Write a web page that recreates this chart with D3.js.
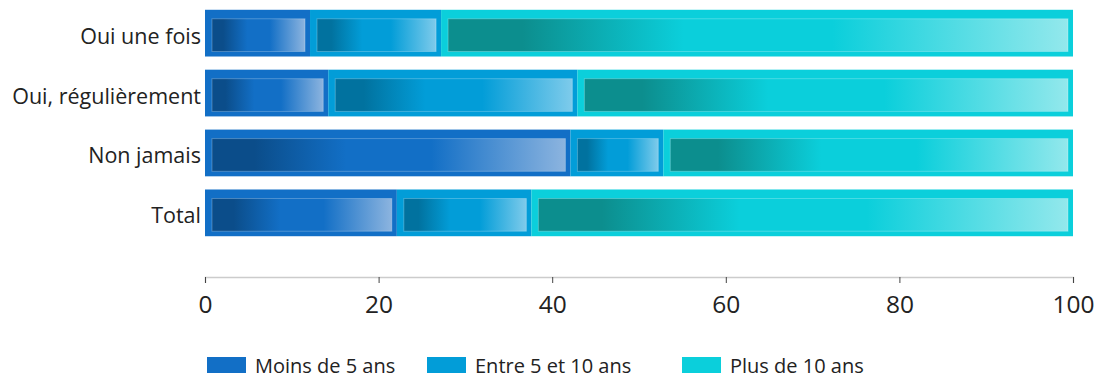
<!DOCTYPE html>
<html><head><meta charset="utf-8">
<script src="https://cdn.jsdelivr.net/npm/d3@7"></script>
<style>body{margin:0;background:#fff}svg{display:block}text{font-family:"Open Sans",sans-serif;fill:#222}</style>
</head><body>
<svg id="c" width="1101" height="380"></svg>
<script>
const categories = ["Oui une fois","Oui, régulièrement","Non jamais","Total"];
const seriesNames = ["Moins de 5 ans","Entre 5 et 10 ans","Plus de 10 ans"];
const moins = [12.1, 14.2, 42.1, 22.1];
const entre = [15.1, 28.7, 10.7, 15.5];
const plus  = [72.8, 57.1, 47.2, 62.4];
const xTicks = [0,20,40,60,80,100];

const colors = ["#126fc6","#029dd8","#0bcfdb"];
const darks  = ["#0b4d8a","#01729f","#0c8e8e"];
const lights = ["#8cb4df","#7ecbeb","#93e8ec"];

const svg = d3.select("#c");
const x = d3.scaleLinear().domain([0,100]).range([205,1073]);
const y = d3.scaleBand().domain(categories).range([-1,247]).paddingInner(0.22).paddingOuter(0.18);

const defs = svg.append("defs");
colors.forEach((c,i)=>{
  const g = defs.append("linearGradient").attr("id","g"+i).attr("x1","0").attr("x2","1").attr("y1","0").attr("y2","0");
  g.append("stop").attr("offset","0").attr("stop-color",darks[i]);
  g.append("stop").attr("offset","0.12").attr("stop-color",darks[i]);
  g.append("stop").attr("offset","0.38").attr("stop-color",c);
  g.append("stop").attr("offset","0.62").attr("stop-color",c);
  g.append("stop").attr("offset","1").attr("stop-color",lights[i]);
});

const seriesVals = [moins, entre, plus];
const data = categories.map((cat,j)=>{
  const o = {cat}; seriesNames.forEach((s,i)=>o[s]=seriesVals[i][j]); return o;
});
const stack = d3.stack().keys(seriesNames)(data);

stack.forEach((layer,i)=>{
  const g = svg.append("g");
  layer.forEach((d,j)=>{
    const x0 = x(d[0]), x1 = x(d[1]), yy = y(categories[j]), h = y.bandwidth();
    g.append("rect").attr("x",x0).attr("y",yy).attr("width",x1-x0).attr("height",h).attr("fill",colors[i]);
    g.append("rect").attr("x",x0+7).attr("y",yy+9).attr("width",Math.max(0,x1-x0-12)).attr("height",h-14)
      .attr("fill","url(#g"+i+")").attr("stroke","rgba(255,255,255,0.25)").attr("stroke-width",1);
  });
});

// category labels
svg.append("g").selectAll("text").data(categories).join("text")
  .attr("x",201).attr("y",d=>y(d)+y.bandwidth()/2+3).attr("dy","0.35em")
  .attr("text-anchor","end").attr("font-size",21.5).text(d=>d);

// x axis
const ax = svg.append("g").attr("transform","translate(0,277)")
  .call(d3.axisBottom(x).tickValues(xTicks).tickSize(6).tickPadding(13));
ax.select(".domain").attr("stroke","#ccc").attr("stroke-width",1.5);
ax.selectAll(".tick line").attr("stroke","#444");
ax.selectAll(".tick text").attr("font-size",24.5).attr("font-family","'Open Sans',sans-serif").attr("fill","#222");

// legend
const legX = [207,427,682];
const leg = svg.append("g");
seriesNames.forEach((s,i)=>{
  leg.append("rect").attr("x",legX[i]).attr("y",357).attr("width",39).attr("height",16).attr("fill",colors[i]);
  leg.append("text").attr("x",legX[i]+48).attr("y",366).attr("dy","0.35em").attr("font-size",20).text(s);
});
</script>
</body></html>
